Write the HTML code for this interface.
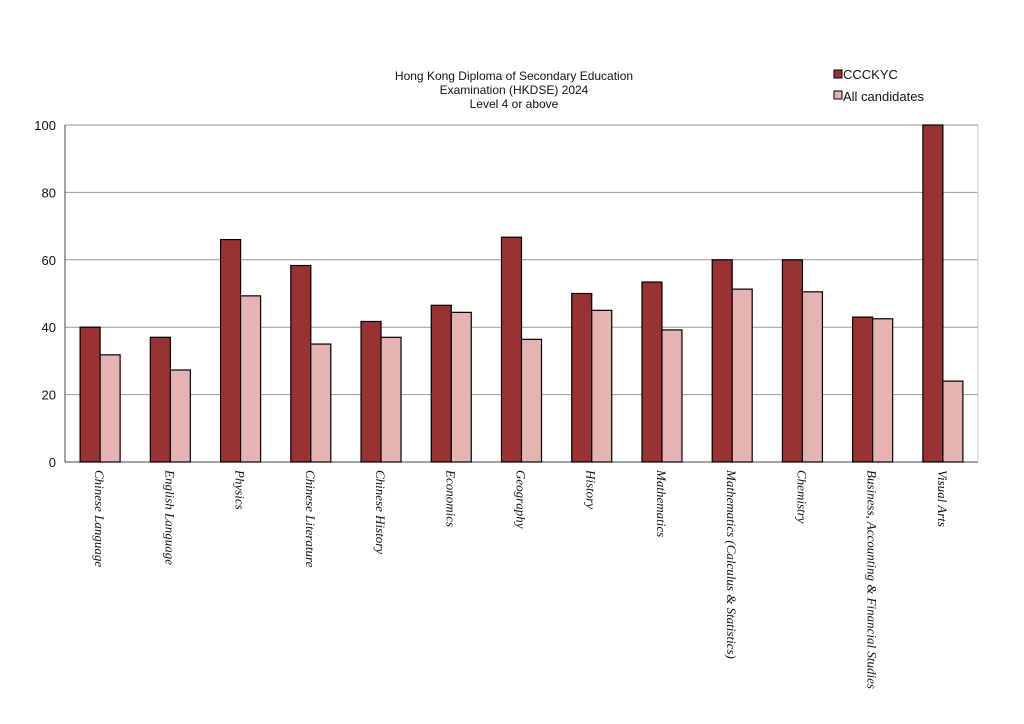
<!DOCTYPE html>
<html><head><meta charset="utf-8"><style>
body{margin:0;background:#fff;}
svg{display:block;}
</style></head><body>
<svg id="chart" width="1024" height="724" xmlns="http://www.w3.org/2000/svg" font-family="Liberation Sans, sans-serif">
<rect width="1024" height="724" fill="#fff"/>
<g font-size="12" text-anchor="middle" fill="#111">
<text x="514" y="80">Hong Kong Diploma of Secondary Education</text>
<text x="514" y="94">Examination (HKDSE) 2024</text>
<text x="514" y="108">Level 4 or above</text>
</g>
<g font-size="13" fill="#111">
<g><rect x="834" y="70" width="8" height="8" fill="#993333" stroke="#000"/><text x="843" y="79">CCCKYC</text></g>
<g><rect x="834" y="91" width="8" height="8" fill="#e6b3b3" stroke="#000"/><text x="843" y="101">All candidates</text></g>
</g>
<g id="grid"></g>
<g id="bars"></g>
<g id="yaxis" font-size="13" fill="#111" text-anchor="end"></g>
<g id="xaxis" font-family="Liberation Serif, serif" font-style="italic" font-size="13" fill="#111"></g>
</svg>
<script>
const categories=["Chinese Language","English Language","Physics","Chinese Literature","Chinese History","Economics","Geography","History","Mathematics","Mathematics (Calculus & Statistics)","Chemistry","Business, Accounting & Financial Studies","Visual Arts"];
const cccKyc=[40,37,66,58.3,41.7,46.5,66.7,50,53.4,60,60,43,100];
const allCandidates=[31.8,27.3,49.3,35,37,44.4,36.4,45,39.2,51.3,50.5,42.5,24];
const yTicks=[0,20,40,60,80,100];
const NS="http://www.w3.org/2000/svg";
const L=65,R=978,T=125,B=462,YMAX=100;
const y=v=>B-(v/YMAX)*(B-T);
const bw=(R-L)/categories.length;
const cx=i=>L+bw*(i+0.5);
function mk(tag,attrs,parent){const e=document.createElementNS(NS,tag);for(const k in attrs)e.setAttribute(k,attrs[k]);parent.appendChild(e);return e;}
const grid=document.getElementById('grid'),bars=document.getElementById('bars'),ya=document.getElementById('yaxis'),xa=document.getElementById('xaxis');
yTicks.forEach(t=>{
  const ln=mk('line',{x1:L,x2:R,y1:y(t),y2:y(t),stroke:t===0?'#444':'#999','stroke-width':1},grid);
  
  
  const tx=mk('text',{x:56,y:y(t)+5},ya);tx.textContent=t;
  
  
});
const rb=mk('line',{x1:R,x2:R,y1:T,y2:B,stroke:'#ccc'},grid);


const lb=mk('line',{x1:L,x2:L,y1:T,y2:B,stroke:'#444'},grid);


categories.forEach((c,i)=>{
  const w=20,x0=cx(i)-w;
  const b1=mk('rect',{x:x0,y:y(cccKyc[i]),width:w,height:B-y(cccKyc[i]),fill:'#993333',stroke:'#000','stroke-width':1.2},bars);
  
  
  const b2=mk('rect',{x:x0+w,y:y(allCandidates[i]),width:w,height:B-y(allCandidates[i]),fill:'#e6b3b3',stroke:'#000','stroke-width':1.2},bars);
  
  
  const tx=mk('text',{x:0,y:0,transform:`translate(${cx(i)-5},470) rotate(90)`},xa);
  tx.textContent=c;
  
  
});
</script>
</body></html>
